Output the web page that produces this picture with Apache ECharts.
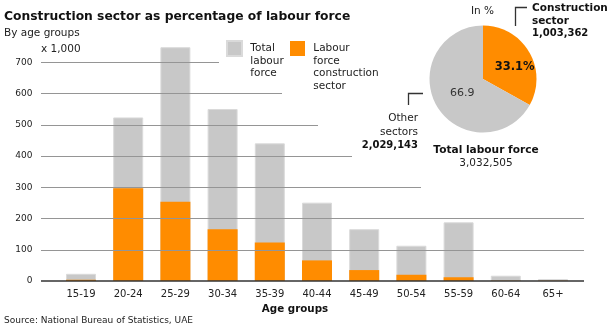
<!DOCTYPE html>
<html>
<head>
<meta charset="utf-8">
<script src="https://cdn.jsdelivr.net/npm/echarts@6/dist/echarts.min.js"></script>
<style>html,body{margin:0;padding:0;background:#fff}#c{width:613px;height:333px}</style>
</head>
<body>
<div id="c"></div>
<script>
// ---- data ----
var categories = ['15-19','20-24','25-29','30-34','35-39','40-44','45-49','50-54','55-59','60-64','65+'];
var totalLabour = [23, 524, 749, 551, 441, 251, 166, 113, 188, 17, 6];          // x 1,000
var constructionLabour = [4, 297, 254, 166, 123, 66, 35, 20, 12, 1, 1];         // x 1,000
var yTicks = [0, 100, 200, 300, 400, 500, 600, 700];
var pieNames = ['Construction sector', 'Other sectors'];
var pieValues = [1003362, 2029143];
var piePercentLabels = ['33.1%', '66.9'];

// ---- layout (not data) ----
var gridLineEnds = [543, 543, 543, 380, 311, 277, 241, 178]; // length of each horizontal rule from x=41
var FONT = 'DejaVu Sans';
var GRAY = '#c8c8c8', ORANGE = '#ff8c00', TXT = '#222';

function fmt(n){ return n.toString().replace(/\B(?=(\d{3})+(?!\d))/g, ','); }
var totalAll = pieValues.reduce(function(a,b){return a+b;},0);

var ruleData = yTicks.map(function(v,i){
  return [{coord:[0,v], lineStyle:{type:'solid', color: v===0 ? '#333' : '#959595', width: v===0 ? 1.5 : 1.2}}, {coord:[gridLineEnds[i], v]}];
});

var chart = echarts.init(document.getElementById('c'), null, {renderer:'canvas'});
chart.setOption({
  animation:false,
  backgroundColor:'#fff',
  textStyle:{fontFamily:FONT},
  title:[
    {text:'Construction sector as percentage of labour force', left:4, top:11, padding:0,
     textStyle:{fontFamily:FONT, fontSize:12.3, fontWeight:'bold', color:'#111'}},
    {text:'By age groups', left:4, top:28, padding:0,
     textStyle:{fontFamily:FONT, fontSize:10.5, fontWeight:'normal', color:TXT}},
    {text:'x 1,000', left:41, top:44, padding:0,
     textStyle:{fontFamily:FONT, fontSize:10.5, fontWeight:'normal', color:TXT}},
    {text:'Age groups', left:295, textAlign:'center', top:304, padding:0,
     textStyle:{fontFamily:FONT, fontSize:10.3, fontWeight:'bold', color:'#111'}},
    {text:'Source: National Bureau of Statistics, UAE', left:4, top:316.5, padding:0,
     textStyle:{fontFamily:FONT, fontSize:9, fontWeight:'normal', color:TXT}},
    {text:'In %', left:471, top:6, padding:0,
     textStyle:{fontFamily:FONT, fontSize:10.5, fontWeight:'normal', color:TXT}},
    {text:pieNames[0].replace(' ','\n'), left:532, top:2, padding:0,
     textStyle:{fontFamily:FONT, fontSize:10.5, fontWeight:'bold', color:'#111', lineHeight:13}},
    {text:fmt(pieValues[0]), left:532, top:28.5, padding:0,
     textStyle:{fontFamily:FONT, fontSize:10, fontWeight:'bold', color:'#111'}},
    {text:'Other\nsectors', left:418, textAlign:'right', top:112, padding:0,
     textStyle:{fontFamily:FONT, fontSize:10.5, fontWeight:'normal', color:TXT, lineHeight:13.5}},
    {text:fmt(pieValues[1]), left:418, textAlign:'right', top:140, padding:0,
     textStyle:{fontFamily:FONT, fontSize:10, fontWeight:'bold', color:'#111'}},
    {text:'Total labour force', left:486, textAlign:'center', top:144.5, padding:0,
     textStyle:{fontFamily:FONT, fontSize:10.6, fontWeight:'bold', color:'#111'}},
    {text:fmt(totalAll), left:486, textAlign:'center', top:157.5, padding:0,
     textStyle:{fontFamily:FONT, fontSize:10.5, fontWeight:'normal', color:TXT}}
  ],
  legend:[
    {data:[{name:'Total labour force'}], left:226, top:17.25, padding:0, orient:'horizontal',
     itemWidth:15, itemHeight:15, itemGap:0, icon:'rect', selectedMode:false,
     formatter:function(){return '\n\n Total\n labour\n force';},
     textStyle:{fontFamily:FONT, fontSize:10.5, color:TXT, lineHeight:12.5}},
    {data:[{name:'Labour force construction sector'}], left:290, top:4.75, padding:0, orient:'horizontal',
     itemWidth:15, itemHeight:15, itemGap:0, icon:'rect', selectedMode:false,
     formatter:function(){return '\n\n\n Labour\n force\n construction\n sector';},
     textStyle:{fontFamily:FONT, fontSize:10.5, color:TXT, lineHeight:12.5}}
  ],
  grid:[
    {left:57.4, right:36.4, top:62.5, bottom:52},
    {left:41, right:29, top:62.5, bottom:52}
  ],
  xAxis:[
    {type:'category', gridIndex:0, data:categories, axisLine:{show:false}, axisTick:{show:false},
     axisLabel:{fontFamily:FONT, fontSize:10, color:TXT, margin:8}},
    {type:'value', gridIndex:1, min:0, max:543, show:false}
  ],
  yAxis:[
    {type:'value', gridIndex:0, min:0, max:700, interval:100, splitLine:{show:false},
     axisLine:{show:false}, axisTick:{show:false},
     axisLabel:{fontFamily:FONT, fontSize:9, color:TXT, margin:25}},
    {type:'value', gridIndex:1, min:0, max:700, show:false}
  ],
  series:[
    {type:'line', xAxisIndex:1, yAxisIndex:1, data:[], silent:true, z:1,
     markLine:{symbol:'none', silent:true, label:{show:false}, animation:false, data:ruleData}},
    {name:'Total labour force', type:'bar', xAxisIndex:0, yAxisIndex:0, data:totalLabour, barWidth:30, clip:false,
     itemStyle:{color:GRAY, borderColor:'#dadada', borderWidth:1}, z:3},
    {name:'Labour force construction sector', type:'bar', xAxisIndex:0, yAxisIndex:0, data:constructionLabour,
     barWidth:30, barGap:'-100%', clip:false, itemStyle:{color:ORANGE}, z:4},
    {type:'pie', center:[483,79], radius:53.5, startAngle:90, clockwise:true, silent:true,
     labelLine:{show:false},
     data:[
       {name:pieNames[0], value:pieValues[0], itemStyle:{color:ORANGE},
        label:{show:true, position:'inside', formatter:piePercentLabels[0], offset:[6,3],
               fontFamily:FONT, fontSize:11.5, fontWeight:'bold', color:'#111'}},
       {name:pieNames[1], value:pieValues[1], itemStyle:{color:GRAY},
        label:{show:true, position:'inside', formatter:piePercentLabels[1], offset:[5,-1],
               fontFamily:FONT, fontSize:11, color:'#333'}}
     ],
     itemStyle:{borderWidth:0}}
  ],
  graphic:[
    {type:'polyline', shape:{points:[[515.5,26],[515.5,7.5],[527,7.5]]}, style:{stroke:'#333', lineWidth:1.3, fill:null}},
    {type:'polyline', shape:{points:[[423,93.5],[408.5,93.5],[408.5,105]]}, style:{stroke:'#333', lineWidth:1.3, fill:null}}
  ]
});
</script>
</body>
</html>
